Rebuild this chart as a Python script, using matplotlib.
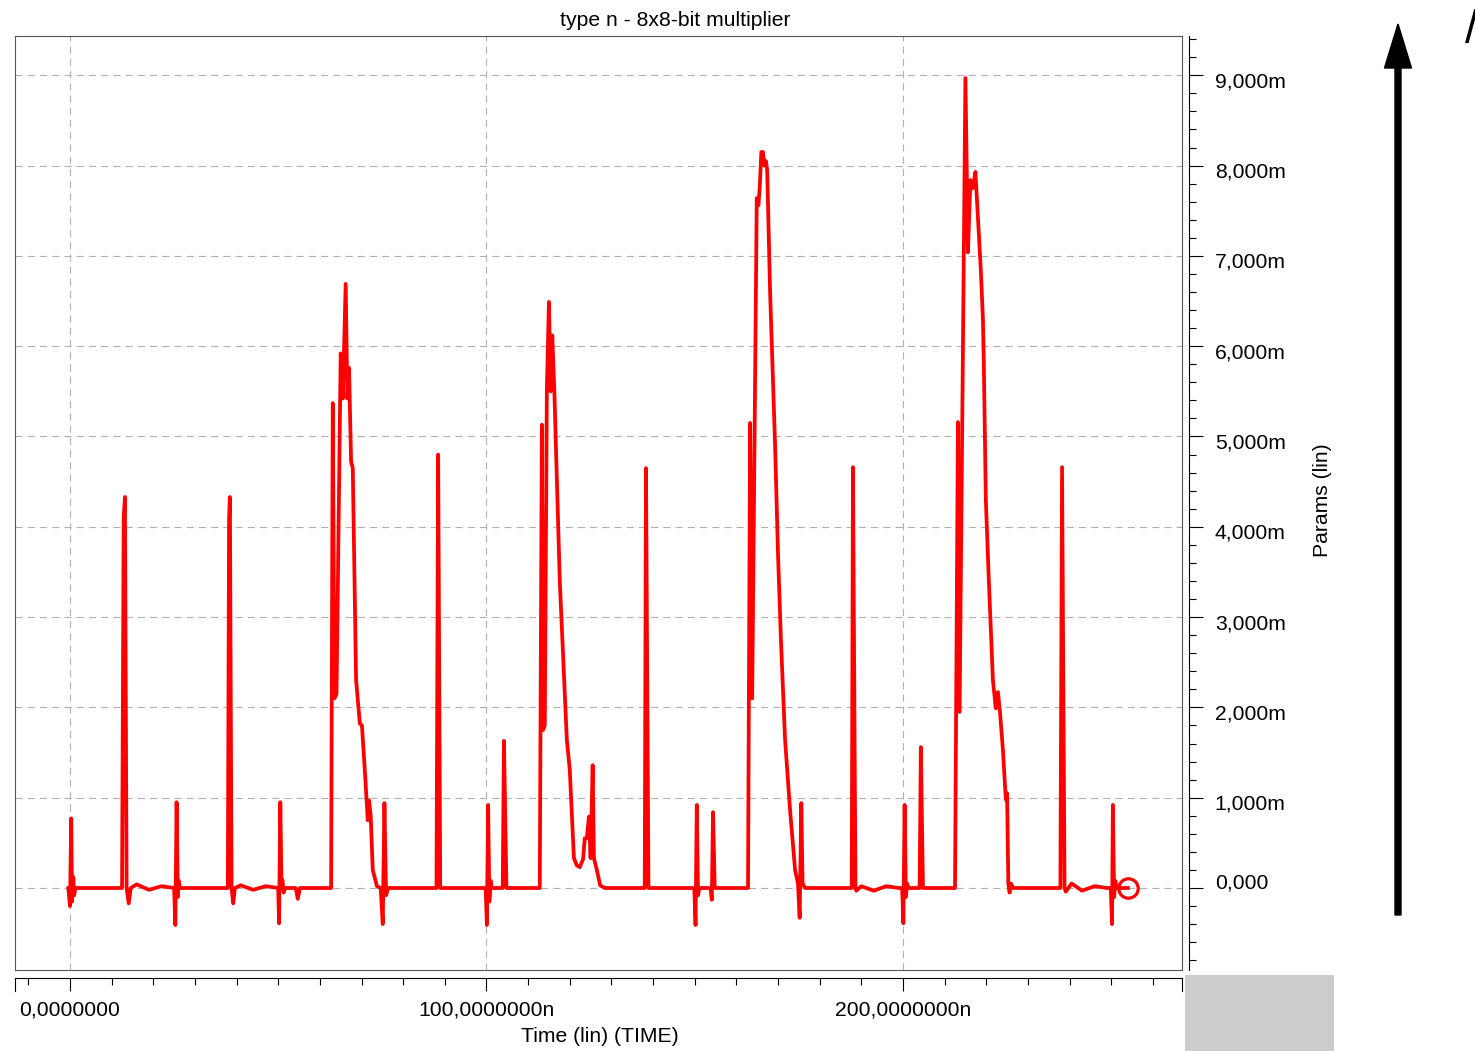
import matplotlib
matplotlib.use("Agg")
import matplotlib.pyplot as plt
from matplotlib.ticker import FixedLocator, MultipleLocator, FuncFormatter
from matplotlib.patches import FancyArrow, Rectangle
from matplotlib.transforms import ScaledTranslation

plt.rcParams['font.family'] = ['Liberation Sans', 'DejaVu Sans']

# transient: time in ns, params in m-units
t_ns = [
    -0.4, 0.0, 0.3, 0.5, 0.8, 1.0, 1.3,
    12.5, 12.9, 13.2, 13.6, 14.1, 14.6, 16.0, 19.0, 22.0, 25.0,
    25.3, 25.6, 25.9, 26.1, 26.4,
    37.9, 38.2, 38.4, 38.8, 39.2, 39.6, 41.0, 44.0, 47.0, 50.0,
    50.2, 50.5, 50.8, 51.0, 51.3, 51.6, 54.2, 54.7, 55.2,
    62.7, 63.1, 63.5, 64.0, 64.5, 65.0, 65.5, 66.2, 66.6, 67.0, 67.5, 67.9, 68.7,
    69.6, 70.1, 70.8, 71.5, 71.8, 72.2, 72.7, 73.7, 74.6, 75.1, 75.5, 75.9, 76.4,
    88.0, 88.4, 88.9,
    99.8, 100.1, 100.4, 100.7, 101.0, 101.3,
    103.9, 104.2, 104.8,
    112.8, 113.3, 113.6, 114.0, 114.5, 115.0, 115.4, 115.8, 116.3, 116.9, 117.6,
    118.4, 118.8, 119.3, 120.0, 121.0, 121.7, 122.4, 123.2, 123.6, 124.1, 124.6,
    125.0, 125.5, 125.8, 126.5, 127.3, 128.4,
    138.0, 138.3, 138.9,
    149.9, 150.2, 150.5, 150.8, 151.1,
    153.8, 154.1, 154.4, 154.8,
    162.8, 163.3, 163.8, 164.9, 165.3, 165.6, 166.0, 166.4, 166.7, 167.1, 167.4,
    168.1, 169.3, 170.0, 170.7, 171.7, 172.9, 174.1, 174.8, 175.2, 175.6, 175.9, 176.5,
    187.7, 188.0, 188.6, 188.8, 190.0, 193.0, 196.0, 199.0,
    199.8, 200.1, 200.4, 200.7, 201.0, 201.3,
    204.0, 204.3, 204.8,
    212.5, 213.2, 213.6, 215.0, 215.6, 216.2, 216.8, 217.4, 217.8, 218.7, 219.2,
    219.4, 219.9, 220.6, 221.6, 222.3, 222.8, 223.3, 224.0, 224.7, 225.0, 225.3,
    225.6, 225.9, 226.5,
    237.8, 238.2, 238.8, 239.1, 240.5, 243.0, 246.0, 249.0,
    249.9, 250.2, 250.4, 250.7, 251.0, 251.3, 254.0,
]
params_m = [
    0, -0.20, 0.77, -0.15, 0.12, -0.08, 0,
    0, 4.10, 4.33, 0, -0.17, 0, 0.04, -0.02, 0.02, 0,
    -0.41, 0.95, -0.10, 0.08, 0,
    0, 4.10, 4.33, 0, -0.17, 0, 0.03, -0.02, 0.02, 0,
    -0.39, 0.95, 0, 0.09, -0.05, 0, 0, -0.12, 0,
    0, 5.37, 2.10, 2.15, 4.00, 5.92, 5.42, 6.69, 5.42, 5.76, 4.72, 4.65, 2.30,
    1.82, 1.80, 1.30, 0.75, 0.97, 0.80, 0.20, 0.02, 0, -0.40, 0.94, -0.08, 0,
    0, 4.80, 0,
    0, -0.41, 0.92, -0.15, 0.08, 0,
    0, 1.63, 0,
    0, 5.13, 1.75, 1.80, 5.51, 6.49, 5.50, 6.12, 5.50, 4.52, 3.40,
    2.58, 2.15, 1.64, 1.31, 0.33, 0.25, 0.23, 0.32, 0.55, 0.55, 0.79,
    0.33, 1.36, 0.33, 0.20, 0.03, 0,
    0, 4.65, 0,
    0, -0.41, 0.92, -0.08, 0,
    0, -0.13, 0.84, 0,
    0, 5.15, 2.10, 7.64, 7.56, 7.75, 8.15, 8.15, 8.00, 8.05, 7.95,
    6.60, 4.90, 3.70, 2.75, 1.64, 0.86, 0.20, 0.05, -0.33, 0.94, 0.05, 0,
    0, 4.66, 0, -0.03, 0.02, -0.03, 0.02, 0,
    0, -0.39, 0.92, -0.10, 0.05, 0,
    0, 1.56, 0,
    0, 5.16, 1.95, 8.97, 7.04, 7.84, 7.75, 7.93, 7.60, 6.84, 6.30,
    5.85, 4.30, 3.43, 2.30, 1.99, 2.17, 1.95, 1.53, 0.98, 1.05, 0.05,
    -0.05, 0.05, 0,
    0, 4.66, 0, -0.04, 0.05, -0.03, 0.02, 0,
    0, -0.40, 0.92, -0.10, 0.08, 0, 0,
]

x_major = [0, 100, 200]
y_major = list(range(0, 10))
x_lim = (-13.2, 267.0)
y_lim = (-0.908, 9.435)

W, H = 1475, 1051
FS = 15.2
fig = plt.figure(figsize=(W / 100, H / 100), dpi=100)


def fx(px):
    return px / W


def fy(py):
    return 1 - py / H


# main plot area
ax = fig.add_axes([fx(15), fy(970), fx(1182) - fx(15), fy(36) - fy(970)])
ax.plot(t_ns, params_m, color='#ff0000', lw=2.7, solid_joinstyle='round')
ax.plot(t_ns[-1], params_m[-1], 'o', ms=14, mfc='none', mec='#ff0000', mew=2.3)
ax.set_xlim(x_lim)
ax.set_ylim(y_lim)
for v in x_major:
    ax.axvline(v, color='#b0b0b0', lw=0.8, ls=(0, (6.5, 4.5)), zorder=0)
for v in y_major:
    ax.axhline(v, color='#b0b0b0', lw=0.8, ls=(0, (6.5, 4.5)), zorder=0)
ax.set_xticks([])
ax.set_yticks([])
for s in ax.spines.values():
    s.set_color('#555555')
    s.set_linewidth(0.8)

# time scale strip below
axb = fig.add_axes([fx(15), fy(991), fx(1182) - fx(15), fy(978) - fy(991)])
axb.set_xlim(x_lim)
axb.set_yticks([])
axb.patch.set_visible(False)
axb.spines['bottom'].set_visible(False)
for s in ('top', 'left', 'right'):
    axb.spines[s].set_color('black')
    axb.spines[s].set_linewidth(0.8)
axb.xaxis.set_major_locator(FixedLocator(x_major))
axb.xaxis.set_minor_locator(MultipleLocator(10))
axb.xaxis.set_major_formatter(FuncFormatter(
    lambda t, pos: f"{t:.7f}".replace('.', ',') + ('n' if t else '')))
axb.tick_params(axis='x', which='both', direction='in', top=True, bottom=False,
                labeltop=False, labelbottom=True, width=0.8, color='black')
axb.tick_params(axis='x', which='major', length=9.4, pad=7, labelsize=FS)
axb.tick_params(axis='x', which='minor', length=5)

# params scale strip on the right
axr = fig.add_axes([fx(1189), fy(970), 0.0001, fy(36) - fy(970)])
axr.set_ylim(y_lim)
axr.set_xticks([])
axr.patch.set_visible(False)
for s in ('top', 'bottom', 'left'):
    axr.spines[s].set_visible(False)
axr.spines['right'].set_color('black')
axr.spines['right'].set_linewidth(0.8)
axr.yaxis.tick_right()
axr.yaxis.set_major_locator(FixedLocator(y_major))
axr.yaxis.set_minor_locator(MultipleLocator(0.2))
axr.yaxis.set_major_formatter(FuncFormatter(
    lambda v, pos: f"{v:.3f}".replace('.', ',') + ('m' if v else '')))
axr.tick_params(axis='y', which='both', direction='out', width=0.8, color='black')
axr.tick_params(axis='y', which='major', length=10, pad=8.5, labelsize=FS)
axr.tick_params(axis='y', which='minor', length=5)
nudge = ScaledTranslation(0, 0.03, fig.dpi_scale_trans)
for tk, v in zip(axr.yaxis.get_major_ticks(len(y_major)), y_major):
    if v == 0:
        tk.label2.set_va('baseline')
    else:
        tk.label2.set_va('top')
        tk.label2.set_transform(tk.label2.get_transform() + nudge)

fig.text(fx(675), fy(20), 'type n - 8x8-bit multiplier', ha='center', va='center', fontsize=FS)
fig.text(fx(600), fy(1037), 'Time (lin) (TIME)', ha='center', va='center', fontsize=FS)
fig.text(fx(1322), fy(500), 'Params (lin)', ha='center', va='center', rotation=90, fontsize=FS)

fig.add_artist(Rectangle((fx(1185), 0), fx(1334) - fx(1185), fy(975),
                         transform=fig.transFigure, color='#cccccc', lw=0))
fig.add_artist(FancyArrow(13.98, (H - 915) / 100, 0, (915 - 24) / 100, width=0.06,
                          head_width=0.27, head_length=0.44, length_includes_head=True,
                          color='black', transform=fig.dpi_scale_trans))
fig.text(fx(1465), fy(43), '/', ha='left', va='baseline', fontsize=33)

fig.savefig('out.png', dpi=100)
